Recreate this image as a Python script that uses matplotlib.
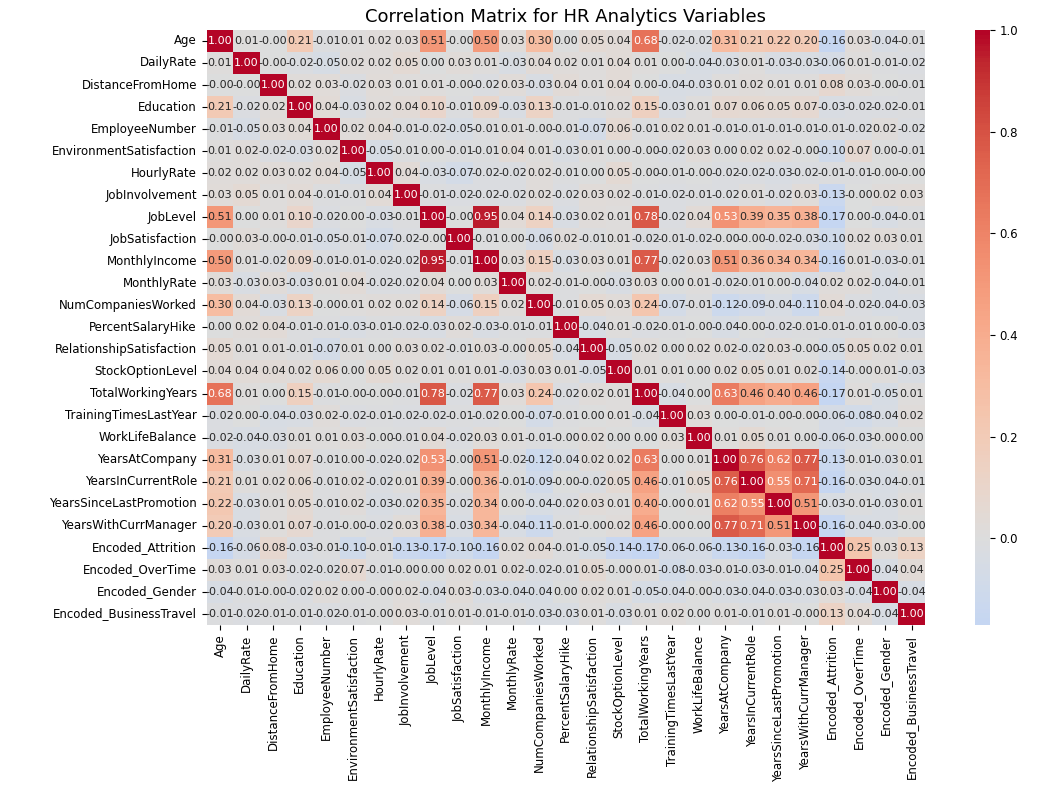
import numpy as np
import matplotlib.pyplot as plt
import seaborn as sns

names = ['Age', 'DailyRate', 'DistanceFromHome', 'Education', 'EmployeeNumber',
         'EnvironmentSatisfaction', 'HourlyRate', 'JobInvolvement', 'JobLevel',
         'JobSatisfaction', 'MonthlyIncome', 'MonthlyRate', 'NumCompaniesWorked',
         'PercentSalaryHike', 'RelationshipSatisfaction', 'StockOptionLevel',
         'TotalWorkingYears', 'TrainingTimesLastYear', 'WorkLifeBalance',
         'YearsAtCompany', 'YearsInCurrentRole', 'YearsSinceLastPromotion',
         'YearsWithCurrManager', 'Encoded_Attrition', 'Encoded_OverTime',
         'Encoded_Gender', 'Encoded_BusinessTravel']

# lower triangle, row by row (diagonal excluded)
low = [
    [],
    [0.01],
    [-0.00, -0.00],
    [0.21, -0.02, 0.02],
    [-0.01, -0.05, 0.03, 0.04],
    [0.01, 0.02, -0.02, -0.03, 0.02],
    [0.02, 0.02, 0.03, 0.02, 0.04, -0.05],
    [0.03, 0.05, 0.01, 0.04, -0.01, -0.01, 0.04],
    [0.51, 0.00, 0.01, 0.10, -0.02, 0.00, -0.03, -0.01],
    [-0.00, 0.03, -0.00, -0.01, -0.05, -0.01, -0.07, -0.02, -0.00],
    [0.50, 0.01, -0.02, 0.09, -0.01, -0.01, -0.02, -0.02, 0.95, -0.01],
    [0.03, -0.03, 0.03, -0.03, 0.01, 0.04, -0.02, -0.02, 0.04, 0.00, 0.03],
    [0.30, 0.04, -0.03, 0.13, -0.00, 0.01, 0.02, 0.02, 0.14, -0.06, 0.15, 0.02],
    [0.00, 0.02, 0.04, -0.01, -0.01, -0.03, -0.01, -0.02, -0.03, 0.02, -0.03, -0.01, -0.01],
    [0.05, 0.01, 0.01, -0.01, -0.07, 0.01, 0.00, 0.03, 0.02, -0.01, 0.03, -0.00, 0.05, -0.04],
    [0.04, 0.04, 0.04, 0.02, 0.06, 0.00, 0.05, 0.02, 0.01, 0.01, 0.01, -0.03, 0.03, 0.01, -0.05],
    [0.68, 0.01, 0.00, 0.15, -0.01, -0.00, -0.00, -0.01, 0.78, -0.02, 0.77, 0.03, 0.24, -0.02, 0.02, 0.01],
    [-0.02, 0.00, -0.04, -0.03, 0.02, -0.02, -0.01, -0.02, -0.02, -0.01, -0.02, 0.00, -0.07, -0.01, 0.00, 0.01, -0.04],
    [-0.02, -0.04, -0.03, 0.01, 0.01, 0.03, -0.00, -0.01, 0.04, -0.02, 0.03, 0.01, -0.01, -0.00, 0.02, 0.00, 0.00, 0.03],
    [0.31, -0.03, 0.01, 0.07, -0.01, 0.00, -0.02, -0.02, 0.53, -0.00, 0.51, -0.02, -0.12, -0.04, 0.02, 0.02, 0.63, 0.00, 0.01],
    [0.21, 0.01, 0.02, 0.06, -0.01, 0.02, -0.02, 0.01, 0.39, -0.00, 0.36, -0.01, -0.09, -0.00, -0.02, 0.05, 0.46, -0.01, 0.05, 0.76],
    [0.22, -0.03, 0.01, 0.05, -0.01, 0.02, -0.03, -0.02, 0.35, -0.02, 0.34, 0.00, -0.04, -0.02, 0.03, 0.01, 0.40, -0.00, 0.01, 0.62, 0.55],
    [0.20, -0.03, 0.01, 0.07, -0.01, -0.00, -0.02, 0.03, 0.38, -0.03, 0.34, -0.04, -0.11, -0.01, -0.00, 0.02, 0.46, -0.00, 0.00, 0.77, 0.71, 0.51],
    [-0.16, -0.06, 0.08, -0.03, -0.01, -0.10, -0.01, -0.13, -0.17, -0.10, -0.16, 0.02, 0.04, -0.01, -0.05, -0.14, -0.17, -0.06, -0.06, -0.13, -0.16, -0.03, -0.16],
    [0.03, 0.01, 0.03, -0.02, -0.02, 0.07, -0.01, -0.00, 0.00, 0.02, 0.01, 0.02, -0.02, -0.01, 0.05, -0.00, 0.01, -0.08, -0.03, -0.01, -0.03, -0.01, -0.04, 0.25],
    [-0.04, -0.01, -0.00, -0.02, 0.02, 0.00, -0.00, 0.02, -0.04, 0.03, -0.03, -0.04, -0.04, 0.00, 0.02, 0.01, -0.05, -0.04, -0.00, -0.03, -0.04, -0.03, -0.03, 0.03, -0.04],
    [-0.01, -0.02, -0.01, -0.01, -0.02, -0.01, -0.00, 0.03, -0.01, 0.01, -0.01, -0.01, -0.03, -0.03, 0.01, -0.03, 0.01, 0.02, 0.00, 0.01, -0.01, 0.01, -0.00, 0.13, 0.04, -0.04],
]

n = len(names)
corr = np.eye(n)
for i, row in enumerate(low):
    for j, v in enumerate(row):
        corr[i, j] = v
        corr[j, i] = v

fig = plt.figure(figsize=(10.44, 7.88), dpi=100)
ax = fig.add_axes([0.198, 0.207, 0.688, 0.755])
cax = fig.add_axes([0.934, 0.207, 0.014, 0.755])
sns.heatmap(corr, annot=True, fmt='.2f', cmap='coolwarm', center=0,
            xticklabels=names, yticklabels=names, annot_kws={'size': 8},
            ax=ax, cbar_ax=cax)
ax.tick_params(labelsize=8.5)
cax.tick_params(labelsize=8.5)
ax.set_title('Correlation Matrix for HR Analytics Variables', fontsize=13)
plt.savefig('out.png', dpi=100)
